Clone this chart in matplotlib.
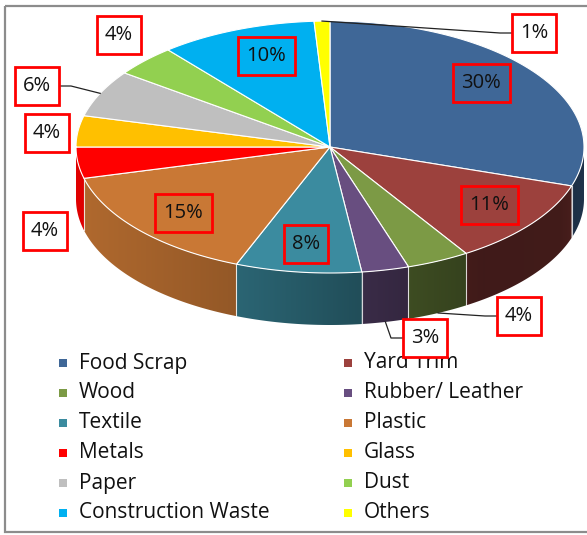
import numpy as np
import matplotlib.pyplot as plt
from matplotlib.colors import to_rgb
from matplotlib.patches import Polygon, Rectangle

# waste composition (%)
categories = ['Food Scrap', 'Yard Trim', 'Wood', 'Rubber/ Leather', 'Textile', 'Plastic',
              'Metals', 'Glass', 'Paper', 'Dust', 'Construction Waste', 'Others']
values = [30, 11, 4, 3, 8, 15, 4, 4, 6, 4, 10, 1]
colors = ['#3f6797', '#9c413d', '#7c9a45', '#684e80', '#3b8b9f', '#c97835',
          '#ff0000', '#ffc000', '#bfbfbf', '#92d050', '#00b0f0', '#ffff00']

# label layout (pixel positions of the data labels)
label_xy = [(481, 83), (489, 205), (519, 316), (425, 338), (306, 244), (183, 213),
            (45, 231), (47, 133), (37, 86), (119, 35), (266, 56), (534, 33)]
inside = [True, True, False, False, True, True, False, False, False, False, True, False]
leader = [False, False, True, True, False, False, False, False, True, False, False, True]

cx, cy, rx, ry, depth = 330, 147, 254, 126, 52
FONT = 'Open Sans'


def rim(t, dz=0.0):
    t = np.radians(t)
    return cx + rx * np.cos(t), cy - ry * np.sin(t) + dz


def shade(c):
    # darker to the right, like excel's 3d lighting
    return np.interp(c, [-1, -0.4, 0, 0.3, 0.6, 0.9, 1.0],
                     [0.88, 0.74, 0.6, 0.5, 0.41, 0.42, 0.5])


fig = plt.figure(figsize=(5.87, 5.35), dpi=100)
ax = fig.add_axes([0, 0, 1, 1])
ax.axis('off')

fracs = np.array(values) / sum(values)
edges = 90 - 360 * np.concatenate([[0], np.cumsum(fracs)])

# side walls (front half only), gradient clipped to each wall
for i in range(len(values)):
    a, b = edges[i], edges[i + 1]
    hi, lo = min(a, 0), max(b, -180)
    if hi <= lo:
        continue
    ts = np.linspace(hi, lo, 80)
    tx, ty = rim(ts)
    bx, by = rim(ts[::-1], depth)
    wall = Polygon(np.column_stack([np.r_[tx, bx], np.r_[ty, by]]), closed=True,
                   fc='none', ec='none')
    ax.add_patch(wall)
    x0, x1 = min(tx.min(), bx.min()), max(tx.max(), bx.max())
    y0, y1 = min(ty.min(), by.min()), max(ty.max(), by.max())
    xs = np.linspace(x0, x1, 200)
    grad = np.array(to_rgb(colors[i]))[None, :] * shade((xs - cx) / rx)[:, None]
    img = np.clip(grad, 0, 1)[None, :, :]
    im = ax.imshow(img, extent=(x0, x1 + 1, y1 + 1, y0), aspect='auto',
                   interpolation='bilinear', zorder=1)
    im.set_clip_path(wall)

for t in edges:
    tt = ((t + 180) % 360) - 180
    if -180 < tt < 0:
        px0, py0 = rim(tt)
        px1, py1 = rim(tt, depth)
        ax.plot([px0, px1], [py0, py1], color='white', lw=0.8, alpha=0.8, zorder=2)

ax.set_xlim(0, 587)
ax.set_ylim(535, 0)

# top faces
for i in range(len(values)):
    ts = np.linspace(edges[i], edges[i + 1], 120)
    xs, ys = rim(ts)
    pts = np.column_stack([np.r_[cx, xs], np.r_[cy, ys]])
    ax.add_patch(Polygon(pts, closed=True, fc=colors[i], ec='white', lw=0.8,
                         joinstyle='round', zorder=3))

# data labels
for i, v in enumerate(values):
    lx, ly = label_xy[i]
    w = 44 + 13 * (len(str(v)) - 1)
    ax.add_patch(Rectangle((lx - w / 2, ly - 19), w, 38, fc='none' if inside[i] else 'white',
                           ec='red', lw=2, zorder=5))
    ax.text(lx, ly, f'{v}%', ha='center', va='center', fontsize=14.5, family=FONT,
            color='#111111', zorder=6)
    if leader[i]:
        mid = (edges[i] + edges[i + 1]) / 2
        tt = ((mid + 180) % 360) - 180
        sx, sy = rim(tt, depth if tt < 0 else 0)
        side = -1 if sx < lx else 1
        ex = lx + side * w / 2
        elbow = ex + side * 12
        ax.plot([sx, elbow, ex], [sy, ly, ly], color='#222222', lw=0.9, zorder=4)

# legend, two columns, row-wise order
for i, name in enumerate(categories):
    col, row = i % 2, i // 2
    mx, my = 63 + 285 * col, 363 + 30 * row
    ax.scatter([mx], [my], marker='s', s=28, color=colors[i], edgecolors='none', zorder=4)
    ax.text(mx + 16, my, name, ha='left', va='center', fontsize=15, family=FONT,
            color='#111111', zorder=4)

ax.add_patch(Rectangle((5, 6), 700, 526, fill=False, ec='#8c8c8c', lw=1.6))

fig.savefig('out.png', dpi=100)
